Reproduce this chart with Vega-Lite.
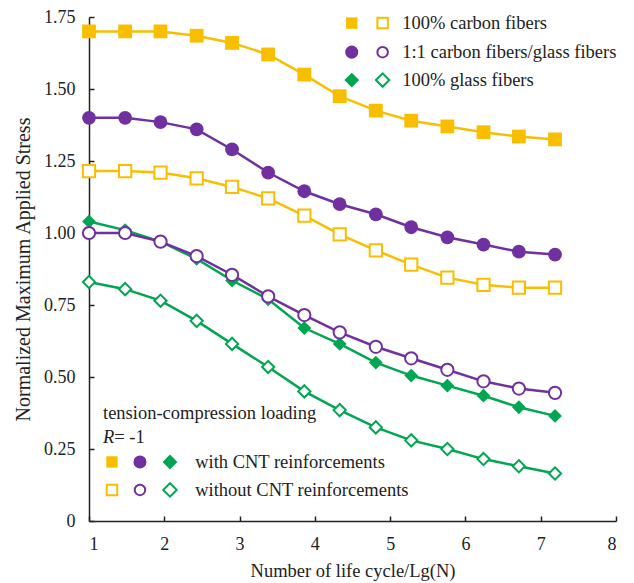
{
  "$schema": "https://vega.github.io/schema/vega-lite/v6.json",
  "width": 527,
  "height": 504,
  "autosize": {"type": "none"},
  "padding": {"left": 89, "top": 17, "right": 18, "bottom": 62},
  "background": "white",
  "config": {
    "view": {"stroke": null},
    "font": "Liberation Serif",
    "axis": {"grid": false, "domainColor": "#222", "tickColor": "#222", "labelColor": "#222", "titleColor": "#222", "labelFont": "Liberation Serif", "titleFont": "Liberation Serif", "titleFontWeight": "normal", "labelFontSize": 18, "titleFontSize": 18.5, "domainWidth": 1.5, "tickWidth": 1.5, "tickSize": -5}
  },
  "data": {"values": [
    {"m":"carbon","cnt":"with","x":1,"y":1.70},{"m":"carbon","cnt":"with","x":1.48,"y":1.70},{"m":"carbon","cnt":"with","x":1.95,"y":1.70},{"m":"carbon","cnt":"with","x":2.43,"y":1.685},{"m":"carbon","cnt":"with","x":2.9,"y":1.66},{"m":"carbon","cnt":"with","x":3.38,"y":1.62},{"m":"carbon","cnt":"with","x":3.86,"y":1.55},{"m":"carbon","cnt":"with","x":4.33,"y":1.475},{"m":"carbon","cnt":"with","x":4.81,"y":1.425},{"m":"carbon","cnt":"with","x":5.28,"y":1.39},{"m":"carbon","cnt":"with","x":5.76,"y":1.37},{"m":"carbon","cnt":"with","x":6.24,"y":1.35},{"m":"carbon","cnt":"with","x":6.71,"y":1.335},{"m":"carbon","cnt":"with","x":7.19,"y":1.325},
    {"m":"mix","cnt":"with","x":1,"y":1.40},{"m":"mix","cnt":"with","x":1.48,"y":1.40},{"m":"mix","cnt":"with","x":1.95,"y":1.385},{"m":"mix","cnt":"with","x":2.43,"y":1.36},{"m":"mix","cnt":"with","x":2.9,"y":1.29},{"m":"mix","cnt":"with","x":3.38,"y":1.21},{"m":"mix","cnt":"with","x":3.86,"y":1.145},{"m":"mix","cnt":"with","x":4.33,"y":1.10},{"m":"mix","cnt":"with","x":4.81,"y":1.065},{"m":"mix","cnt":"with","x":5.28,"y":1.02},{"m":"mix","cnt":"with","x":5.76,"y":0.985},{"m":"mix","cnt":"with","x":6.24,"y":0.96},{"m":"mix","cnt":"with","x":6.71,"y":0.935},{"m":"mix","cnt":"with","x":7.19,"y":0.925},
    {"m":"glass","cnt":"with","x":1,"y":1.04},{"m":"glass","cnt":"with","x":1.48,"y":1.01},{"m":"glass","cnt":"with","x":1.95,"y":0.97},{"m":"glass","cnt":"with","x":2.43,"y":0.91},{"m":"glass","cnt":"with","x":2.9,"y":0.835},{"m":"glass","cnt":"with","x":3.38,"y":0.77},{"m":"glass","cnt":"with","x":3.86,"y":0.67},{"m":"glass","cnt":"with","x":4.33,"y":0.615},{"m":"glass","cnt":"with","x":4.81,"y":0.55},{"m":"glass","cnt":"with","x":5.28,"y":0.505},{"m":"glass","cnt":"with","x":5.76,"y":0.47},{"m":"glass","cnt":"with","x":6.24,"y":0.435},{"m":"glass","cnt":"with","x":6.71,"y":0.395},{"m":"glass","cnt":"with","x":7.19,"y":0.365},
    {"m":"carbon","cnt":"without","x":1,"y":1.215},{"m":"carbon","cnt":"without","x":1.48,"y":1.215},{"m":"carbon","cnt":"without","x":1.95,"y":1.21},{"m":"carbon","cnt":"without","x":2.43,"y":1.19},{"m":"carbon","cnt":"without","x":2.9,"y":1.16},{"m":"carbon","cnt":"without","x":3.38,"y":1.12},{"m":"carbon","cnt":"without","x":3.86,"y":1.06},{"m":"carbon","cnt":"without","x":4.33,"y":0.995},{"m":"carbon","cnt":"without","x":4.81,"y":0.94},{"m":"carbon","cnt":"without","x":5.28,"y":0.89},{"m":"carbon","cnt":"without","x":5.76,"y":0.845},{"m":"carbon","cnt":"without","x":6.24,"y":0.82},{"m":"carbon","cnt":"without","x":6.71,"y":0.81},{"m":"carbon","cnt":"without","x":7.19,"y":0.81},
    {"m":"mix","cnt":"without","x":1,"y":1.00},{"m":"mix","cnt":"without","x":1.48,"y":1.00},{"m":"mix","cnt":"without","x":1.95,"y":0.97},{"m":"mix","cnt":"without","x":2.43,"y":0.92},{"m":"mix","cnt":"without","x":2.9,"y":0.855},{"m":"mix","cnt":"without","x":3.38,"y":0.78},{"m":"mix","cnt":"without","x":3.86,"y":0.715},{"m":"mix","cnt":"without","x":4.33,"y":0.655},{"m":"mix","cnt":"without","x":4.81,"y":0.605},{"m":"mix","cnt":"without","x":5.28,"y":0.565},{"m":"mix","cnt":"without","x":5.76,"y":0.525},{"m":"mix","cnt":"without","x":6.24,"y":0.485},{"m":"mix","cnt":"without","x":6.71,"y":0.46},{"m":"mix","cnt":"without","x":7.19,"y":0.445},
    {"m":"glass","cnt":"without","x":1,"y":0.83},{"m":"glass","cnt":"without","x":1.48,"y":0.805},{"m":"glass","cnt":"without","x":1.95,"y":0.765},{"m":"glass","cnt":"without","x":2.43,"y":0.695},{"m":"glass","cnt":"without","x":2.9,"y":0.615},{"m":"glass","cnt":"without","x":3.38,"y":0.535},{"m":"glass","cnt":"without","x":3.86,"y":0.45},{"m":"glass","cnt":"without","x":4.33,"y":0.385},{"m":"glass","cnt":"without","x":4.81,"y":0.325},{"m":"glass","cnt":"without","x":5.28,"y":0.28},{"m":"glass","cnt":"without","x":5.76,"y":0.25},{"m":"glass","cnt":"without","x":6.24,"y":0.215},{"m":"glass","cnt":"without","x":6.71,"y":0.19},{"m":"glass","cnt":"without","x":7.19,"y":0.165}
  ]},
  "encoding": {
    "x": {"field": "x", "type": "quantitative", "scale": {"domain": [1, 8], "nice": false, "zero": false}, "axis": {"values": [1,2,3,4,5,6,7,8], "title": "Number of life cycle/Lg(N)", "labelPadding": 19, "titlePadding": 8}},
    "y": {"field": "y", "type": "quantitative", "scale": {"domain": [0, 1.75], "nice": false}, "axis": {"values": [0,0.25,0.5,0.75,1,1.25,1.5,1.75], "labelExpr": "datum.value == 0 ? '0' : format(datum.value, '.2f')", "title": "Normalized Maximum Applied Stress", "titleFontSize": 20, "labelPadding": 19, "titlePadding": 10}},
    "color": {"field": "m", "type": "nominal", "scale": {"domain": ["carbon", "mix", "glass"], "range": ["#F9BE00", "#7030A0", "#00A651"]}, "legend": null},
    "shape": {"field": "m", "type": "nominal", "scale": {"domain": ["carbon", "mix", "glass"], "range": ["square", "circle", "diamond"]}, "legend": null}
  },
  "layer": [
    {"mark": {"type": "line", "strokeWidth": 2.5}, "encoding": {"detail": {"field": "cnt"}, "shape": null}},
    {"transform": [{"filter": "datum.cnt == 'with'"}], "mark": {"type": "point", "filled": true, "size": 190, "opacity": 1}},
    {"transform": [{"filter": "datum.cnt == 'without'"}], "mark": {"type": "point", "filled": false, "fill": "white", "size": 150, "strokeWidth": 2, "opacity": 1}},
    {
      "transform": [{"filter": "datum.m == 'carbon' && datum.cnt == 'with' && datum.x == 1"}],
      "layer": [
        {"mark": {"type": "point", "filled": true, "shape": "square", "size": 130, "color": "#F9BE00", "opacity": 1}, "encoding": {"x": {"datum": 4.49}, "y": {"datum": 1.729}, "color": null, "shape": null}},
        {"mark": {"type": "point", "filled": false, "shape": "square", "size": 110, "strokeWidth": 2, "color": "#F9BE00", "opacity": 1}, "encoding": {"x": {"datum": 4.9}, "y": {"datum": 1.729}, "color": null, "shape": null}},
        {"mark": {"type": "text", "align": "left", "baseline": "middle", "fontSize": 18.5, "font": "Liberation Serif", "color": "#222"}, "encoding": {"x": {"datum": 5.16}, "y": {"datum": 1.729}, "text": {"value": "100% carbon fibers"}, "color": null, "shape": null}},
        {"mark": {"type": "point", "filled": true, "shape": "circle", "size": 170, "color": "#7030A0", "opacity": 1}, "encoding": {"x": {"datum": 4.49}, "y": {"datum": 1.628}, "color": null, "shape": null}},
        {"mark": {"type": "point", "filled": false, "shape": "circle", "size": 110, "strokeWidth": 2, "color": "#7030A0", "opacity": 1}, "encoding": {"x": {"datum": 4.9}, "y": {"datum": 1.628}, "color": null, "shape": null}},
        {"mark": {"type": "text", "align": "left", "baseline": "middle", "fontSize": 18.5, "font": "Liberation Serif", "color": "#222"}, "encoding": {"x": {"datum": 5.16}, "y": {"datum": 1.628}, "text": {"value": "1:1 carbon fibers/glass fibers"}, "color": null, "shape": null}},
        {"mark": {"type": "point", "filled": true, "shape": "diamond", "size": 220, "color": "#00A651", "opacity": 1}, "encoding": {"x": {"datum": 4.49}, "y": {"datum": 1.531}, "color": null, "shape": null}},
        {"mark": {"type": "point", "filled": false, "shape": "diamond", "size": 180, "strokeWidth": 2, "color": "#00A651", "opacity": 1}, "encoding": {"x": {"datum": 4.9}, "y": {"datum": 1.531}, "color": null, "shape": null}},
        {"mark": {"type": "text", "align": "left", "baseline": "middle", "fontSize": 18.5, "font": "Liberation Serif", "color": "#222"}, "encoding": {"x": {"datum": 5.16}, "y": {"datum": 1.531}, "text": {"value": "100% glass fibers"}, "color": null, "shape": null}},
        {"mark": {"type": "text", "align": "left", "baseline": "middle", "fontSize": 18.5, "font": "Liberation Serif", "color": "#222"}, "encoding": {"x": {"datum": 1.186}, "y": {"datum": 0.375}, "text": {"value": "tension-compression loading"}, "color": null, "shape": null}},
        {"mark": {"type": "text", "align": "left", "baseline": "middle", "fontSize": 18.5, "font": "Liberation Serif", "fontStyle": "italic", "color": "#222"}, "encoding": {"x": {"datum": 1.186}, "y": {"datum": 0.292}, "text": {"value": "R"}, "color": null, "shape": null}},
        {"mark": {"type": "text", "align": "left", "baseline": "middle", "fontSize": 18.5, "font": "Liberation Serif", "color": "#222"}, "encoding": {"x": {"datum": 1.335}, "y": {"datum": 0.292}, "text": {"value": "= -1"}, "color": null, "shape": null}},
        {"mark": {"type": "point", "filled": true, "shape": "square", "size": 130, "color": "#F9BE00", "opacity": 1}, "encoding": {"x": {"datum": 1.305}, "y": {"datum": 0.205}, "color": null, "shape": null}},
        {"mark": {"type": "point", "filled": true, "shape": "circle", "size": 170, "color": "#7030A0", "opacity": 1}, "encoding": {"x": {"datum": 1.677}, "y": {"datum": 0.205}, "color": null, "shape": null}},
        {"mark": {"type": "point", "filled": true, "shape": "diamond", "size": 220, "color": "#00A651", "opacity": 1}, "encoding": {"x": {"datum": 2.076}, "y": {"datum": 0.205}, "color": null, "shape": null}},
        {"mark": {"type": "text", "align": "left", "baseline": "middle", "fontSize": 18.5, "font": "Liberation Serif", "color": "#222"}, "encoding": {"x": {"datum": 2.41}, "y": {"datum": 0.205}, "text": {"value": "with CNT reinforcements"}, "color": null, "shape": null}},
        {"mark": {"type": "point", "filled": false, "shape": "square", "size": 110, "strokeWidth": 2, "color": "#F9BE00", "opacity": 1}, "encoding": {"x": {"datum": 1.305}, "y": {"datum": 0.108}, "color": null, "shape": null}},
        {"mark": {"type": "point", "filled": false, "shape": "circle", "size": 110, "strokeWidth": 2, "color": "#7030A0", "opacity": 1}, "encoding": {"x": {"datum": 1.677}, "y": {"datum": 0.108}, "color": null, "shape": null}},
        {"mark": {"type": "point", "filled": false, "shape": "diamond", "size": 180, "strokeWidth": 2, "color": "#00A651", "opacity": 1}, "encoding": {"x": {"datum": 2.076}, "y": {"datum": 0.108}, "color": null, "shape": null}},
        {"mark": {"type": "text", "align": "left", "baseline": "middle", "fontSize": 18.5, "font": "Liberation Serif", "color": "#222"}, "encoding": {"x": {"datum": 2.41}, "y": {"datum": 0.108}, "text": {"value": "without CNT reinforcements"}, "color": null, "shape": null}}
      ]
    }
  ]
}
